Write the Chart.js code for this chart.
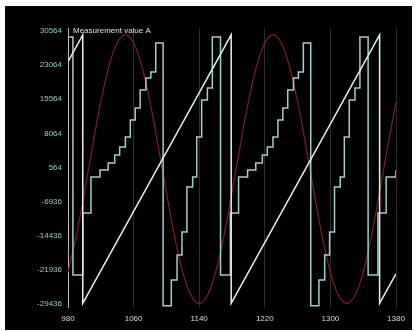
<!DOCTYPE html>
<html lang="en">
<head>
    <meta charset="UTF-8">
    <title>Measurement value A</title>
    <script src="https://cdn.jsdelivr.net/npm/chart.js"></script>
    <style>
        body {
            margin: 0;
            background-color: #ffffff;
        }
        .panel {
            position: absolute;
            left: 5px;
            top: 6px;
            width: 407px;
            height: 324px;
            background-color: #000000;
        }
    </style>
</head>
<body>

    <div class="panel">
        <canvas id="scopeChart" width="407" height="324"></canvas>
    </div>

    <script>
        const legendLabel = 'Measurement value A';

        const xTicks = [980, 1060, 1140, 1220, 1300, 1380];
        const yTicks = [-29436, -21936, -14436, -6936, 564, 8064, 15564, 23064, 30564];

        // red sine (read every 10 samples)
        const sineX = [980, 990, 1000, 1010, 1020, 1030, 1040, 1050, 1060, 1070,
                       1080, 1090, 1100, 1110, 1120, 1130, 1140, 1150, 1160, 1170,
                       1180, 1190, 1200, 1210, 1220, 1230, 1240, 1250, 1260, 1270,
                       1280, 1290, 1300, 1310, 1320, 1330, 1340, 1350, 1360, 1370, 1380];
        const sineY = [-22400, -14550, -4920, 5320, 14950, 22800, 27920, 29700, 27920, 22800,
                       14950, 5320, -4920, -14550, -22400, -27520, -29300, -27520, -22400, -14550,
                       -4920, 5320, 14950, 22800, 27920, 29700, 27920, 22800, 14950, 5320,
                       -4920, -14550, -22400, -27520, -29300, -27520, -22400, -14550, -4920, 5320, 14950];

        // white sawtooth corners
        const sawX = [980, 998, 998, 1179, 1179, 1360, 1360, 1380];
        const sawY = [23800, 29700, -29300, 29700, -29300, 29700, -29300, -22800];

        // cyan staircase, each value held until the next x
        const stepX = [980, 986, 998, 1008, 1019, 1029, 1037, 1043, 1050, 1056,
                       1062, 1068, 1075, 1081, 1087, 1096, 1106, 1113, 1119, 1125,
                       1132, 1137, 1143, 1150, 1156, 1166, 1178, 1188, 1199, 1209,
                       1217, 1223, 1230, 1236, 1242, 1248, 1255, 1261, 1267, 1276,
                       1286, 1293, 1299, 1305, 1312, 1317, 1323, 1330, 1336, 1346,
                       1358, 1368, 1380];
        const stepY = [29250, -23060, -9440, -1520, 20, 1550, 3310, 5070, 7270, 11000,
                       13640, 17600, 20230, 21550, 27930, -29800, -24160, -18670, -13610, -3720,
                       -1520, 7270, 15400, 18040, 29250, -23060, -9440, -1520, 20, 1550,
                       3310, 5070, 7270, 11000, 13640, 17600, 20230, 21550, 27930, -29800,
                       -24160, -18670, -13610, -3720, -1520, 7270, 15400, 18040, 29250, -23060,
                       -9440, -1520, 20];

        const pts = (xs, ys) => xs.map((x, i) => ({ x: x, y: ys[i] }));

        const overlayLabel = {
            id: 'overlayLabel',
            afterDraw(chart) {
                const ctx = chart.ctx;
                const area = chart.chartArea;
                ctx.save();
                ctx.font = '8px "Liberation Sans", Arial, sans-serif';
                ctx.fillStyle = '#cfe6e6';
                ctx.textBaseline = 'middle';
                ctx.fillText(legendLabel, area.left + 5, area.top + 3);
                ctx.restore();
            }
        };

        const tickFont = { size: 8, family: '"Liberation Sans", Arial, sans-serif' };

        new Chart(document.getElementById('scopeChart').getContext('2d'), {
            type: 'line',
            data: {
                datasets: [
                    {
                        label: 'sawtooth',
                        data: pts(sawX, sawY),
                        borderColor: '#eeeeee',
                        borderWidth: 1.5,
                        pointRadius: 0,
                        fill: false
                    },
                    {
                        label: legendLabel,
                        data: pts(stepX, stepY),
                        borderColor: '#a3cfcd',
                        borderWidth: 1.5,
                        pointRadius: 0,
                        stepped: true,
                        fill: false
                    },
                    {
                        label: 'sine',
                        data: pts(sineX, sineY),
                        borderColor: '#7c2020',
                        borderWidth: 1.2,
                        pointRadius: 0,
                        tension: 0.4,
                        fill: false
                    }
                ]
            },
            options: {
                responsive: false,
                animation: false,
                layout: { padding: { top: 22, right: 16, left: 0, bottom: 0 } },
                plugins: {
                    legend: { display: false },
                    tooltip: { enabled: false }
                },
                scales: {
                    x: {
                        type: 'linear',
                        min: 980,
                        max: 1380,
                        afterBuildTicks: s => { s.ticks = xTicks.map(v => ({ value: v })); },
                        afterFit: s => { s.height = 22.5; },
                        grid: { color: '#2c2c2c', drawTicks: false },
                        border: { display: false },
                        ticks: { color: '#d8d8d8', font: tickFont, padding: 6, maxRotation: 0, callback: v => String(v) }
                    },
                    y: {
                        type: 'linear',
                        min: -30200,
                        max: 31200,
                        afterBuildTicks: s => { s.ticks = yTicks.map(v => ({ value: v })); },
                        afterFit: s => { s.width = 63; },
                        grid: { display: false, drawTicks: false },
                        border: { color: '#c8b8b8' },
                        ticks: { color: '#8fcaca', font: tickFont, padding: 6, callback: v => String(v) }
                    }
                }
            },
            plugins: [overlayLabel]
        });
    </script>

</body>
</html>
